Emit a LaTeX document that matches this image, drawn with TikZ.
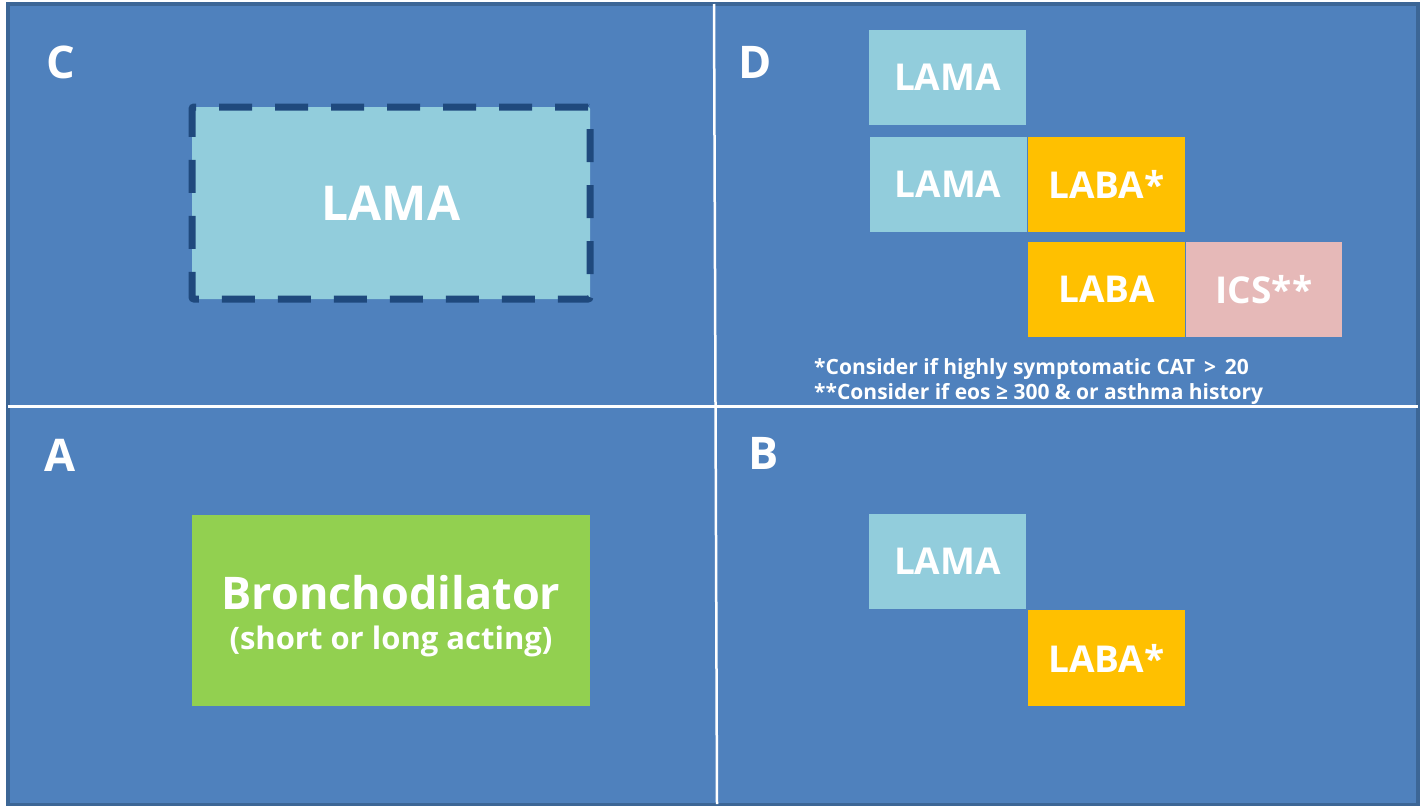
\documentclass[tikz,border=0pt]{standalone}
\usepackage{fontspec}
\setmainfont{Open Sans}
\usetikzlibrary{positioning}

\definecolor{PanelBlue}{HTML}{4F81BD}
\definecolor{PanelEdge}{HTML}{3C6696}
\definecolor{LamaBlue}{HTML}{92CDDC}
\definecolor{LabaGold}{HTML}{FFC000}
\definecolor{IcsPink}{HTML}{E6B9B8}
\definecolor{BronchGreen}{HTML}{92D050}
\definecolor{DashNavy}{HTML}{1F497D}

\tikzset{
  drugbox/.style={rectangle,inner sep=0pt,text=white,
    font=\fontsize{37}{44}\selectfont\bfseries,
    minimum width=157pt,minimum height=95pt},
  lamabox/.style={drugbox,fill=LamaBlue},
  lababox/.style={drugbox,fill=LabaGold},
  icsbox/.style={drugbox,fill=IcsPink},
  quadletter/.style={text=white,inner sep=0pt,
    font=\fontsize{45}{54}\selectfont\bfseries},
  notetext/.style={text=white,inner sep=0pt,anchor=base west,
    font=\fontsize{21}{25}\selectfont\bfseries},
}

\begin{document}
\begin{tikzpicture}[x=1pt,y=-1pt]
    \useasboundingbox (0,0) rectangle (1422,806);
    % panel and quadrant dividers
    \node[rectangle,fill=PanelBlue,draw=PanelEdge,line width=4pt,inner sep=0pt,
      minimum width=1410pt,minimum height=801pt] (panel) at (713,404) {};
    \draw[white,line width=3pt] (8,406) -- (1418,406);
    \draw[white,line width=2.5pt] (714,4) -- (717,804);
    \foreach \name/\px/\py in {C/61/62,D/755/62,A/60/455,B/764/453}{%
      \node[quadletter] (quad\name) at (\px,\py) {\name};
    }
    % C
    \node[lamabox,minimum width=398pt,minimum height=192pt,
      draw=DashNavy,line width=7pt,dash pattern=on 33pt off 23pt,
      rounded corners=2pt,font=\fontsize{48}{56}\selectfont\bfseries]
      (cLama) at (391,203) {LAMA};
    % D
    \node[lamabox] (dLamaSolo) at (947.5,77) {LAMA};
    \node[lamabox] (dLama) at (948,184.5) {LAMA};
    \node[lababox] (dLabaStar) at (1106.5,184.5) {LABA*};
    \node[lababox] (dLaba) at (1106.5,289.5) {LABA};
    \node[icsbox,minimum width=156pt] (dIcs) at (1264,289.5) {ICS**};
    \node[notetext] (noteCat) at (814,374) {*Consider if highly symptomatic CAT \,>\, 20};
    \node[notetext] (noteEos) at (814,399) {**Consider if eos ≥ 300 \& or asthma history};
    % A
    \node[rectangle,fill=BronchGreen,inner sep=0pt,minimum width=398pt,
      minimum height=191pt] (aBronch) at (391,610.5) {};
    \node[text=white,inner sep=0pt,font=\fontsize{45}{54}\selectfont\bfseries]
      (aBronchTitle) at (391,593) {Bronchodilator};
    \node[text=white,inner sep=0pt,font=\fontsize{31}{36}\selectfont\bfseries]
      (aBronchSub) at (391,641) {(short or long acting)};
    % B
    \node[lamabox] (bLama) at (947.5,561.5) {LAMA};
    \node[lababox,minimum height=96pt] (bLabaStar) at (1106.5,658) {LABA*};
  \end{tikzpicture}
\end{document}
